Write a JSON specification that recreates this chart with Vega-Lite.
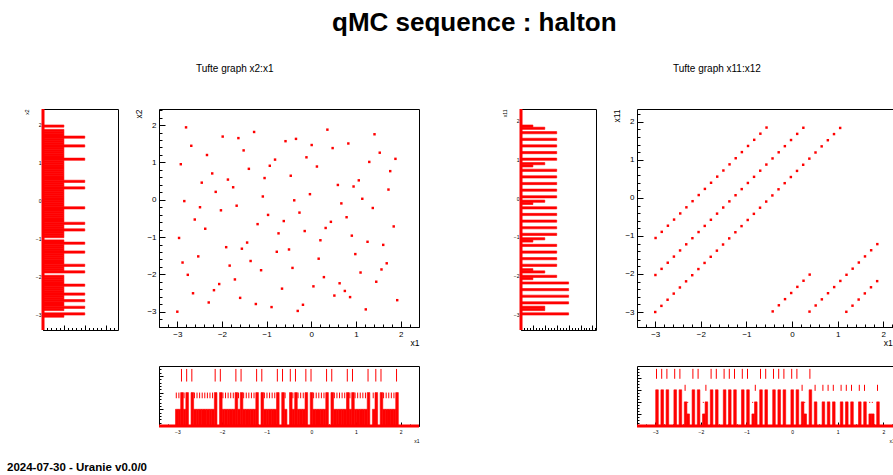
{
"$schema": "https://vega.github.io/schema/vega-lite/v6.json",
"background": "white",
"padding": {"left": 7, "top": 9, "right": 0, "bottom": 0},
"title": {"text": "qMC sequence : halton", "anchor": "start", "frame": "group", "dx": 289, "offset": 28, "fontSize": 26, "fontWeight": "bold", "font": "Liberation Sans", "color": "#000000"},
"config": {
  "view": {"stroke": "#000000", "strokeWidth": 1},
  "axis": {"grid": false, "domain": false, "tickColor": "#000000", "tickWidth": 1, "labelColor": "#000000", "titleColor": "#000000", "labelFont": "Liberation Sans", "titleFont": "Liberation Sans", "titleFontWeight": "normal", "labelFlush": false, "labelOverlap": false},
  "title": {"font": "Liberation Sans", "color": "#000000"}
},
"datasets": {
  "errL": [{"n": 1, "lo": 1.66, "hi": 2}, {"n": 2, "lo": 2.66, "hi": 3.414}, {"n": 3, "lo": 3.66, "hi": 4.732}],
  "errR": [{"n": 1, "lo": 1.91, "hi": 2}, {"n": 2, "lo": 2.91, "hi": 3.414}, {"n": 3, "lo": 3.91, "hi": 4.732}],
  "pts": [
{"x1":-3,"x2":-3,"x11":-3,"x12":-3},
{"x1":-0.5,"x2":-1.3333,"x11":-2.8387,"x12":-2.8649},
{"x1":-1.75,"x2":0.3333,"x11":-2.6774,"x12":-2.7297},
{"x1":0.75,"x2":-2.4444,"x11":-2.5161,"x12":-2.5946},
{"x1":-2.375,"x2":-0.7778,"x11":-2.3548,"x12":-2.4595},
{"x1":0.125,"x2":0.8889,"x11":-2.1935,"x12":-2.3243},
{"x1":-1.125,"x2":-1.8889,"x11":-2.0323,"x12":-2.1892},
{"x1":1.375,"x2":-0.2222,"x11":-1.871,"x12":-2.0541},
{"x1":-2.6875,"x2":1.4444,"x11":-1.7097,"x12":-1.9189},
{"x1":-0.1875,"x2":-2.8148,"x11":-1.5484,"x12":-1.7838},
{"x1":-1.4375,"x2":-1.1481,"x11":-1.3871,"x12":-1.6486},
{"x1":1.0625,"x2":0.5185,"x11":-1.2258,"x12":-1.5135},
{"x1":-2.0625,"x2":-2.2593,"x11":-1.0645,"x12":-1.3784},
{"x1":0.4375,"x2":-0.5926,"x11":-0.9032,"x12":-1.2432},
{"x1":-0.8125,"x2":1.0741,"x11":-0.7419,"x12":-1.1081},
{"x1":1.6875,"x2":-1.7037,"x11":-0.5806,"x12":-0.973},
{"x1":-2.84375,"x2":-0.037,"x11":-0.4194,"x12":-0.8378},
{"x1":-0.34375,"x2":1.6296,"x11":-0.2581,"x12":-0.7027},
{"x1":-1.59375,"x2":-2.6296,"x11":-0.0968,"x12":-0.5676},
{"x1":0.90625,"x2":-0.963,"x11":0.0645,"x12":-0.4324},
{"x1":-2.21875,"x2":0.7037,"x11":0.2258,"x12":-0.2973},
{"x1":0.28125,"x2":-2.0741,"x11":0.3871,"x12":-0.1622},
{"x1":-0.96875,"x2":-0.4074,"x11":0.5484,"x12":-0.027},
{"x1":1.53125,"x2":1.2593,"x11":0.7097,"x12":0.1081},
{"x1":-2.53125,"x2":-1.5185,"x11":0.871,"x12":0.2432},
{"x1":-0.03125,"x2":0.1481,"x11":1.0323,"x12":0.3784},
{"x1":-1.28125,"x2":1.8148,"x11":1.1935,"x12":0.5135},
{"x1":1.21875,"x2":-2.9383,"x11":1.3548,"x12":0.6486},
{"x1":-1.90625,"x2":-1.2716,"x11":1.5161,"x12":0.7838},
{"x1":0.59375,"x2":0.3951,"x11":1.6774,"x12":0.9189},
{"x1":-0.65625,"x2":-2.3827,"x11":1.8387,"x12":1.0541},
{"x1":1.84375,"x2":-0.716,"x11":-2.9948,"x12":1.1892},
{"x1":-2.921875,"x2":0.9506,"x11":-2.8335,"x12":1.3243},
{"x1":-0.421875,"x2":-1.8272,"x11":-2.6722,"x12":1.4595},
{"x1":-1.671875,"x2":-0.1605,"x11":-2.5109,"x12":1.5946},
{"x1":0.828125,"x2":1.5062,"x11":-2.3496,"x12":1.7297},
{"x1":-2.296875,"x2":-2.7531,"x11":-2.1883,"x12":1.8649},
{"x1":0.203125,"x2":-1.0864,"x11":-2.0271,"x12":-2.9963},
{"x1":-1.046875,"x2":0.5802,"x11":-1.8658,"x12":-2.8612},
{"x1":1.453125,"x2":-2.1975,"x11":-1.7045,"x12":-2.726},
{"x1":-2.609375,"x2":-0.5309,"x11":-1.5432,"x12":-2.5909},
{"x1":-0.109375,"x2":1.1358,"x11":-1.3819,"x12":-2.4558},
{"x1":-1.359375,"x2":-1.642,"x11":-1.2206,"x12":-2.3206},
{"x1":1.140625,"x2":0.0247,"x11":-1.0593,"x12":-2.1855},
{"x1":-1.984375,"x2":1.6914,"x11":-0.898,"x12":-2.0504},
{"x1":0.515625,"x2":-2.5679,"x11":-0.7367,"x12":-1.9152},
{"x1":-0.734375,"x2":-0.9012,"x11":-0.5754,"x12":-1.7801},
{"x1":1.765625,"x2":0.7654,"x11":-0.4142,"x12":-1.6449},
{"x1":-2.765625,"x2":-2.0123,"x11":-0.2529,"x12":-1.5098},
{"x1":-0.265625,"x2":-0.3457,"x11":-0.0916,"x12":-1.3747},
{"x1":-1.515625,"x2":1.321,"x11":0.0697,"x12":-1.2395},
{"x1":0.984375,"x2":-1.4568,"x11":0.231,"x12":-1.1044},
{"x1":-2.140625,"x2":0.2099,"x11":0.3923,"x12":-0.9693},
{"x1":0.359375,"x2":1.8765,"x11":0.5536,"x12":-0.8341},
{"x1":-0.890625,"x2":-2.8765,"x11":0.7149,"x12":-0.699},
{"x1":1.609375,"x2":-1.2099,"x11":0.8762,"x12":-0.5639},
{"x1":-2.453125,"x2":0.4568,"x11":1.0375,"x12":-0.4287},
{"x1":0.046875,"x2":-2.321,"x11":1.1987,"x12":-0.2936},
{"x1":-1.203125,"x2":-0.6543,"x11":1.36,"x12":-0.1585},
{"x1":1.296875,"x2":1.0123,"x11":1.5213,"x12":-0.0233},
{"x1":-1.828125,"x2":-1.7654,"x11":1.6826,"x12":0.1118},
{"x1":0.671875,"x2":-0.0988,"x11":1.8439,"x12":0.2469},
{"x1":-0.578125,"x2":1.5679,"x11":-2.9896,"x12":0.3821},
{"x1":1.921875,"x2":-2.6914,"x11":-2.8283,"x12":0.5172},
{"x1":-2.9609375,"x2":-1.0247,"x11":-2.667,"x12":0.6523},
{"x1":-0.4609375,"x2":0.642,"x11":-2.5057,"x12":0.7875},
{"x1":-1.7109375,"x2":-2.1358,"x11":-2.3444,"x12":0.9226},
{"x1":0.7890625,"x2":-0.4691,"x11":-2.1831,"x12":1.0577},
{"x1":-2.3359375,"x2":1.1975,"x11":-2.0219,"x12":1.1929},
{"x1":0.1640625,"x2":-1.5802,"x11":-1.8606,"x12":1.328},
{"x1":-1.0859375,"x2":0.0864,"x11":-1.6993,"x12":1.4631},
{"x1":1.4140625,"x2":1.7531,"x11":-1.538,"x12":1.5983},
{"x1":-2.6484375,"x2":-2.5062,"x11":-1.3767,"x12":1.7334},
{"x1":-0.1484375,"x2":-0.8395,"x11":-1.2154,"x12":1.8685},
{"x1":-1.3984375,"x2":0.8272,"x11":-1.0541,"x12":-2.9927},
{"x1":1.1015625,"x2":-1.9506,"x11":-0.8928,"x12":-2.8576},
{"x1":-2.0234375,"x2":-0.284,"x11":-0.7315,"x12":-2.7224},
{"x1":0.4765625,"x2":1.3827,"x11":-0.5702,"x12":-2.5873},
{"x1":-0.7734375,"x2":-1.3951,"x11":-0.409,"x12":-2.4522},
{"x1":1.7265625,"x2":0.2716,"x11":-0.2477,"x12":-2.317},
{"x1":-2.8046875,"x2":1.9383,"x11":-0.0864,"x12":-2.1819},
{"x1":-0.3046875,"x2":-2.9794,"x11":0.0749,"x12":-2.0468},
{"x1":-1.5546875,"x2":-1.3128,"x11":0.2362,"x12":-1.9116},
{"x1":0.9453125,"x2":0.3539,"x11":0.3975,"x12":-1.7765},
{"x1":-2.1796875,"x2":-2.4239,"x11":0.5588,"x12":-1.6413},
{"x1":0.3203125,"x2":-0.7572,"x11":0.7201,"x12":-1.5062},
{"x1":-0.9296875,"x2":0.9095,"x11":0.8814,"x12":-1.3711},
{"x1":1.5703125,"x2":-1.8683,"x11":1.0427,"x12":-1.2359},
{"x1":-2.4921875,"x2":-0.2016,"x11":1.2039,"x12":-1.1008},
{"x1":0.0078125,"x2":1.465,"x11":1.3652,"x12":-0.9657},
{"x1":-1.2421875,"x2":-2.7942,"x11":1.5265,"x12":-0.8305},
{"x1":1.2578125,"x2":-1.1276,"x11":1.6878,"x12":-0.6954},
{"x1":-1.8671875,"x2":0.5391,"x11":1.8491,"x12":-0.5603},
{"x1":0.6328125,"x2":-2.2387,"x11":-2.9844,"x12":-0.4251},
{"x1":-0.6171875,"x2":-0.572,"x11":-2.8231,"x12":-0.29},
{"x1":1.8828125,"x2":1.0947,"x11":-2.6618,"x12":-0.1549},
{"x1":-2.8828125,"x2":-1.6831,"x11":-2.5005,"x12":-0.0197},
{"x1":-0.3828125,"x2":-0.0165,"x11":-2.3392,"x12":0.1154},
{"x1":-1.6328125,"x2":1.6502,"x11":-2.1779,"x12":0.2505},
{"x1":0.8671875,"x2":-2.6091,"x11":-2.0167,"x12":0.3857}
  ]
},
"columns": 5,
"bounds": "flush",
"spacing": {"row": 36, "column": 41},
"concat": [
  {
    "width": 75, "height": 221,
    "layer": [
      {"data": {"name": "pts"},
       "transform": [{"bin": {"extent": [-3.4, 2.4], "step": 0.058, "nice": false}, "field": "x2", "as": ["s2", "e2"]}, {"aggregate": [{"op": "count", "as": "n2"}], "groupby": ["s2", "e2"]}],
       "mark": {"type": "bar", "color": "#ff0000", "stroke": "#ff0000", "strokeWidth": 0.6, "binSpacing": 0, "orient": "horizontal"},
       "encoding": {
         "y": {"field": "s2", "type": "quantitative", "bin": {"binned": true}, "scale": {"domain": [-3.4, 2.4], "nice": false, "zero": false}, "axis": {"orient": "left", "values": [-3, -2, -1, 0, 1, 2], "format": "d", "ticks": false, "labelFontSize": 5, "labelPadding": 2, "title": "x2", "titleFontSize": 5, "titleAnchor": "end", "titlePadding": 6}},
         "y2": {"field": "e2"},
         "x": {"field": "n2", "type": "quantitative", "stack": null, "scale": {"domain": [0, 3.59], "nice": false}, "axis": {"orient": "bottom", "values": [0, 1, 2, 3], "tickSize": -5, "labels": false, "title": null}}
       }},
      {"data": {"values": [{"z": 0}]},
       "mark": {"type": "rule", "color": "#ff0000", "strokeWidth": 3},
       "encoding": {"x": {"field": "z", "type": "quantitative", "scale": {"domain": [0, 3.59], "nice": false}, "axis": {"orient": "bottom", "values": [0,0.2,0.4,0.6,0.8,1,1.2,1.4,1.6,1.8,2,2.2,2.4,2.6,2.8,3,3.2,3.4], "tickSize": -2.5, "labels": false, "title": null}}}}
    ],
    "resolve": {"axis": {"x": "independent"}}
  },
  {
    "width": 260, "height": 218,
    "title": {"text": "Tufte graph x2:x1", "anchor": "start", "frame": "group", "dx": 37, "offset": 35, "fontSize": 10, "fontWeight": "normal", "font": "Liberation Sans", "color": "#000000"},
    "data": {"name": "pts"},
    "layer": [
      {"mark": {"type": "square", "size": 6, "color": "#ff0000", "opacity": 1},
       "encoding": {
         "x": {"field": "x1", "type": "quantitative", "scale": {"domain": [-3.41, 2.41], "nice": false, "zero": false}, "axis": {"orient": "bottom", "values": [-3, -2, -1, 0, 1, 2], "format": "d", "tickSize": -6, "labelPadding": 9, "labelFontSize": 8, "title": "x1", "titleFontSize": 8.5, "titleAnchor": "end", "titlePadding": 0}},
         "y": {"field": "x2", "type": "quantitative", "scale": {"domain": [-3.41, 2.43], "nice": false, "zero": false}, "axis": {"orient": "left", "values": [-3, -2, -1, 0, 1, 2], "format": "d", "tickSize": -6, "labelPadding": 9, "labelFontSize": 8, "title": "x2", "titleFontSize": 8.5, "titleAnchor": "end", "titlePadding": 3}}
       }},
      {"mark": {"type": "point", "opacity": 0},
       "encoding": {
         "x": {"field": "x1", "type": "quantitative", "scale": {"domain": [-3.41, 2.41], "nice": false, "zero": false}, "axis": {"orient": "bottom", "values": [-3.4,-3.2,-3,-2.8,-2.6,-2.4,-2.2,-2,-1.8,-1.6,-1.4,-1.2,-1,-0.8,-0.6,-0.4,-0.2,0,0.2,0.4,0.6,0.8,1,1.2,1.4,1.6,1.8,2,2.2,2.4], "tickSize": -3, "labels": false, "title": null}},
         "y": {"field": "x2", "type": "quantitative", "scale": {"domain": [-3.41, 2.43], "nice": false, "zero": false}, "axis": {"orient": "left", "values": [-3.4,-3.2,-3,-2.8,-2.6,-2.4,-2.2,-2,-1.8,-1.6,-1.4,-1.2,-1,-0.8,-0.6,-0.4,-0.2,0,0.2,0.4,0.6,0.8,1,1.2,1.4,1.6,1.8,2,2.2,2.4], "tickSize": -3, "labels": false, "title": null}}
       }}
    ],
    "resolve": {"axis": {"x": "independent", "y": "independent"}}
  },
  {"width": 20, "height": 221, "data": {"values": [{"z": 0}]}, "mark": {"type": "point", "opacity": 0}, "view": {"stroke": null}},
  {
    "width": 75, "height": 221,
    "layer": [
      {"data": {"name": "pts"},
       "transform": [{"bin": {"extent": [-3.4, 2.3], "step": 0.057, "nice": false}, "field": "x11", "as": ["s11", "e11"]}, {"aggregate": [{"op": "count", "as": "n11"}], "groupby": ["s11", "e11"]}],
       "mark": {"type": "bar", "color": "#ff0000", "stroke": "#ff0000", "strokeWidth": 0.6, "binSpacing": 0, "orient": "horizontal"},
       "encoding": {
         "y": {"field": "s11", "type": "quantitative", "bin": {"binned": true}, "scale": {"domain": [-3.4, 2.3], "nice": false, "zero": false}, "axis": {"orient": "left", "values": [-3, -2, -1, 0, 1, 2], "format": "d", "ticks": false, "labelFontSize": 5, "labelPadding": 2, "title": "x11", "titleFontSize": 5, "titleAnchor": "end", "titlePadding": 6}},
         "y2": {"field": "e11"},
         "x": {"field": "n11", "type": "quantitative", "stack": null, "scale": {"domain": [0, 6.3], "nice": false}, "axis": {"orient": "bottom", "values": [0, 1, 2, 3, 4, 5, 6], "tickSize": -5, "labels": false, "title": null}}
       }},
      {"data": {"values": [{"z": 0}]},
       "mark": {"type": "rule", "color": "#ff0000", "strokeWidth": 3},
       "encoding": {"x": {"field": "z", "type": "quantitative", "scale": {"domain": [0, 6.3], "nice": false}, "axis": {"orient": "bottom", "values": [0,0.25,0.5,0.75,1,1.25,1.5,1.75,2,2.25,2.5,2.75,3,3.25,3.5,3.75,4,4.25,4.5,4.75,5,5.25,5.5,5.75,6,6.25], "tickSize": -2.5, "labels": false, "title": null}}}}
    ],
    "resolve": {"axis": {"x": "independent"}}
  },
  {
    "width": 260, "height": 218,
    "title": {"text": "Tufte graph x11:x12", "anchor": "start", "frame": "group", "dx": 36, "offset": 35, "fontSize": 10, "fontWeight": "normal", "font": "Liberation Sans", "color": "#000000"},
    "data": {"name": "pts"},
    "layer": [
      {"mark": {"type": "square", "size": 6, "color": "#ff0000", "opacity": 1},
       "encoding": {
         "x": {"field": "x12", "type": "quantitative", "scale": {"domain": [-3.4, 2.3], "nice": false, "zero": false}, "axis": {"orient": "bottom", "values": [-3, -2, -1, 0, 1, 2], "format": "d", "tickSize": -6, "labelPadding": 9, "labelFontSize": 8, "title": "x12", "titleFontSize": 8.5, "titleAnchor": "end", "titlePadding": 0}},
         "y": {"field": "x11", "type": "quantitative", "scale": {"domain": [-3.394, 2.337], "nice": false, "zero": false}, "axis": {"orient": "left", "values": [-3, -2, -1, 0, 1, 2], "format": "d", "tickSize": -6, "labelPadding": 9, "labelFontSize": 8, "title": "x11", "titleFontSize": 8.5, "titleAnchor": "end", "titlePadding": 3}}
       }},
      {"mark": {"type": "point", "opacity": 0},
       "encoding": {
         "x": {"field": "x12", "type": "quantitative", "scale": {"domain": [-3.4, 2.3], "nice": false, "zero": false}, "axis": {"orient": "bottom", "values": [-3.4,-3.2,-3,-2.8,-2.6,-2.4,-2.2,-2,-1.8,-1.6,-1.4,-1.2,-1,-0.8,-0.6,-0.4,-0.2,0,0.2,0.4,0.6,0.8,1,1.2,1.4,1.6,1.8,2,2.2], "tickSize": -3, "labels": false, "title": null}},
         "y": {"field": "x11", "type": "quantitative", "scale": {"domain": [-3.394, 2.337], "nice": false, "zero": false}, "axis": {"orient": "left", "values": [-3.2,-3,-2.8,-2.6,-2.4,-2.2,-2,-1.8,-1.6,-1.4,-1.2,-1,-0.8,-0.6,-0.4,-0.2,0,0.2,0.4,0.6,0.8,1,1.2,1.4,1.6,1.8,2,2.2], "tickSize": -3, "labels": false, "title": null}}
       }}
    ],
    "resolve": {"axis": {"x": "independent", "y": "independent"}}
  },
  {"width": 75, "height": 60, "data": {"values": [{"z": 0}]}, "mark": {"type": "point", "opacity": 0}, "view": {"stroke": null},
   "title": {"text": "2024-07-30 - Uranie v0.0/0", "orient": "bottom", "anchor": "start", "frame": "group", "dx": -36, "offset": 36, "fontSize": 11.5, "fontWeight": "bold", "font": "Liberation Sans", "color": "#000000"}},
  {
    "width": 260, "height": 60,
    "layer": [
      {"data": {"name": "pts"},
       "transform": [{"bin": {"extent": [-3.4, 2.4], "step": 0.058, "nice": false}, "field": "x1", "as": ["s1", "e1"]}, {"aggregate": [{"op": "count", "as": "n1"}], "groupby": ["s1", "e1"]}],
       "mark": {"type": "bar", "color": "#ff0000", "stroke": "#ff0000", "strokeWidth": 0.6, "binSpacing": 0},
       "encoding": {
         "x": {"field": "s1", "type": "quantitative", "bin": {"binned": true}, "scale": {"domain": [-3.41, 2.41], "nice": false, "zero": false}, "axis": {"orient": "bottom", "values": [-3, -2, -1, 0, 1, 2], "format": "d", "tickSize": -4, "labelPadding": 7, "labelFontSize": 5, "title": "x1", "titleFontSize": 5, "titleAnchor": "end", "titlePadding": 4}},
         "x2": {"field": "e1"},
         "y": {"field": "n1", "type": "quantitative", "stack": null, "scale": {"domain": [0, 3.59], "nice": false}, "axis": {"orient": "left", "values": [0, 1, 2, 3], "tickSize": -4, "labels": false, "title": null}}
       }},
      {"data": {"name": "pts"},
       "transform": [{"bin": {"extent": [-3.4, 2.4], "step": 0.058, "nice": false}, "field": "x1", "as": ["f1", "g1"]}, {"aggregate": [{"op": "count", "as": "n"}], "groupby": ["f1", "g1"]}, {"lookup": "n", "from": {"data": {"name": "errL"}, "key": "n", "fields": ["lo", "hi"]}}],
       "mark": {"type": "rule", "color": "#ff0000", "strokeWidth": 1, "xOffset": 1.3},
       "encoding": {
         "x": {"field": "f1", "type": "quantitative", "scale": {"domain": [-3.41, 2.41], "nice": false, "zero": false}, "axis": null},
         "y": {"field": "lo", "type": "quantitative", "scale": {"domain": [0, 3.59], "nice": false}, "axis": null},
         "y2": {"field": "hi"}
       }},
      {"data": {"values": [{"z": 0}]},
       "mark": {"type": "rule", "color": "#ff0000", "strokeWidth": 3},
       "encoding": {"y": {"field": "z", "type": "quantitative", "scale": {"domain": [0, 3.59], "nice": false}, "axis": {"orient": "left", "values": [0,0.2,0.4,0.6,0.8,1,1.2,1.4,1.6,1.8,2,2.2,2.4,2.6,2.8,3,3.2,3.4], "tickSize": -2, "labels": false, "title": null}}}},
      {"data": {"values": [{"z": 0}]},
       "mark": {"type": "point", "opacity": 0},
       "encoding": {"x": {"field": "z", "type": "quantitative", "scale": {"domain": [-3.41, 2.41], "nice": false, "zero": false}, "axis": {"orient": "bottom", "values": [-3.4,-3.2,-3,-2.8,-2.6,-2.4,-2.2,-2,-1.8,-1.6,-1.4,-1.2,-1,-0.8,-0.6,-0.4,-0.2,0,0.2,0.4,0.6,0.8,1,1.2,1.4,1.6,1.8,2,2.2,2.4], "tickSize": -2, "labels": false, "title": null}}}}
    ],
    "resolve": {"axis": {"x": "independent", "y": "independent"}}
  },
  {"width": 20, "height": 60, "data": {"values": [{"z": 0}]}, "mark": {"type": "point", "opacity": 0}, "view": {"stroke": null}},
  {"width": 75, "height": 60, "data": {"values": [{"z": 0}]}, "mark": {"type": "point", "opacity": 0}, "view": {"stroke": null}},
  {
    "width": 260, "height": 60,
    "layer": [
      {"data": {"name": "pts"},
       "transform": [{"bin": {"extent": [-3.4, 2.3], "step": 0.057, "nice": false}, "field": "x12", "as": ["s12", "e12"]}, {"aggregate": [{"op": "count", "as": "n12"}], "groupby": ["s12", "e12"]}],
       "mark": {"type": "bar", "color": "#ff0000", "stroke": "#ff0000", "strokeWidth": 0.6, "binSpacing": 0},
       "encoding": {
         "x": {"field": "s12", "type": "quantitative", "bin": {"binned": true}, "scale": {"domain": [-3.4, 2.3], "nice": false, "zero": false}, "axis": {"orient": "bottom", "values": [-3, -2, -1, 0, 1, 2], "format": "d", "tickSize": -4, "labelPadding": 7, "labelFontSize": 5, "title": "x12", "titleFontSize": 5, "titleAnchor": "end", "titlePadding": 4}},
         "x2": {"field": "e12"},
         "y": {"field": "n12", "type": "quantitative", "stack": null, "scale": {"domain": [0, 4.97], "nice": false}, "axis": {"orient": "left", "values": [0, 1, 2, 3, 4], "tickSize": -4, "labels": false, "title": null}}
       }},
      {"data": {"name": "pts"},
       "transform": [{"bin": {"extent": [-3.4, 2.3], "step": 0.057, "nice": false}, "field": "x12", "as": ["f12", "g12"]}, {"aggregate": [{"op": "count", "as": "n"}], "groupby": ["f12", "g12"]}, {"lookup": "n", "from": {"data": {"name": "errR"}, "key": "n", "fields": ["lo", "hi"]}}],
       "mark": {"type": "rule", "color": "#ff0000", "strokeWidth": 1, "xOffset": 1.3},
       "encoding": {
         "x": {"field": "f12", "type": "quantitative", "scale": {"domain": [-3.4, 2.3], "nice": false, "zero": false}, "axis": null},
         "y": {"field": "lo", "type": "quantitative", "scale": {"domain": [0, 4.97], "nice": false}, "axis": null},
         "y2": {"field": "hi"}
       }},
      {"data": {"values": [{"z": 0}]},
       "mark": {"type": "rule", "color": "#ff0000", "strokeWidth": 3},
       "encoding": {"y": {"field": "z", "type": "quantitative", "scale": {"domain": [0, 4.97], "nice": false}, "axis": {"orient": "left", "values": [0,0.25,0.5,0.75,1,1.25,1.5,1.75,2,2.25,2.5,2.75,3,3.25,3.5,3.75,4,4.25,4.5,4.75], "tickSize": -2, "labels": false, "title": null}}}},
      {"data": {"values": [{"z": 0}]},
       "mark": {"type": "point", "opacity": 0},
       "encoding": {"x": {"field": "z", "type": "quantitative", "scale": {"domain": [-3.4, 2.3], "nice": false, "zero": false}, "axis": {"orient": "bottom", "values": [-3.4,-3.2,-3,-2.8,-2.6,-2.4,-2.2,-2,-1.8,-1.6,-1.4,-1.2,-1,-0.8,-0.6,-0.4,-0.2,0,0.2,0.4,0.6,0.8,1,1.2,1.4,1.6,1.8,2,2.2], "tickSize": -2, "labels": false, "title": null}}}}
    ],
    "resolve": {"axis": {"x": "independent", "y": "independent"}}
  }
]
}
